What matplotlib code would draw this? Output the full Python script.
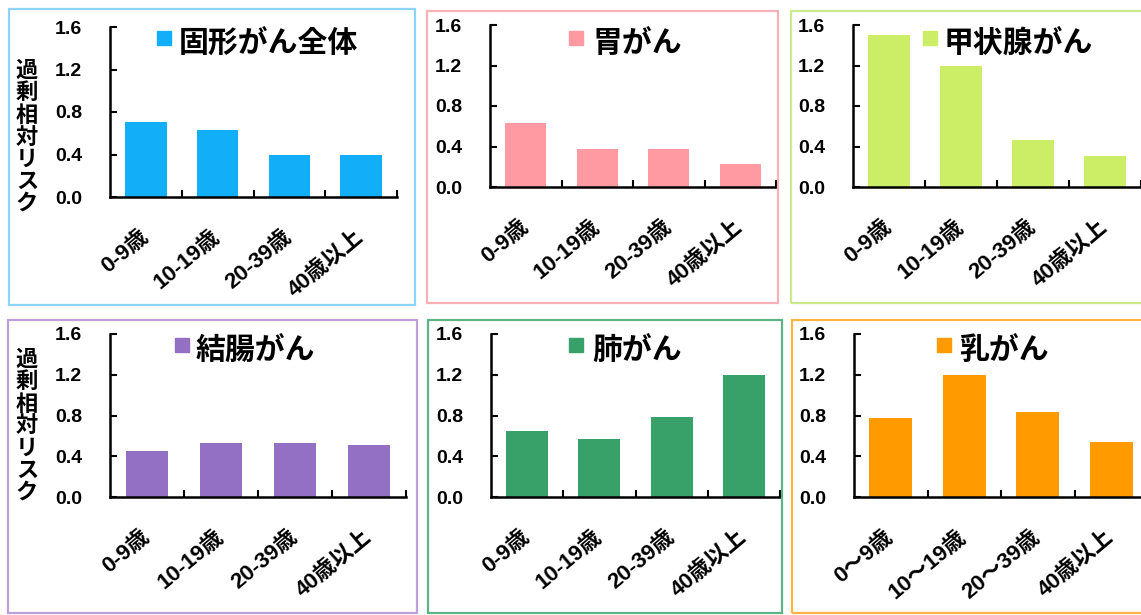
import matplotlib
matplotlib.use("Agg")
import matplotlib.pyplot as plt
from matplotlib.patches import Rectangle

W, H = 1141, 615
plt.rcParams['font.family'] = ['Liberation Sans', 'Noto Sans CJK JP', 'DejaVu Sans']
plt.rcParams['font.weight'] = 'bold'

categories = ['0-9歳', '10-19歳', '20-39歳', '40歳以上']
categories_breast = ['0～9歳', '10～19歳', '20～39歳', '40歳以上']
titles = ['固形がん全体', '胃がん', '甲状腺がん', '結腸がん', '肺がん', '乳がん']
solid = [0.71, 0.63, 0.40, 0.40]
stomach = [0.63, 0.38, 0.38, 0.23]
thyroid = [1.50, 1.20, 0.46, 0.31]
colon = [0.45, 0.53, 0.53, 0.51]
lung = [0.65, 0.57, 0.79, 1.20]
breast = [0.78, 1.20, 0.83, 0.54]
yticks = [0.0, 0.4, 0.8, 1.2, 1.6]
ylabel = '過剰相対リスク'

series = [solid, stomach, thyroid, colon, lung, breast]
cats = [categories, categories, categories, categories, categories, categories_breast]
bar_colors = ['#12AEF7', '#FF9AA2', '#CCEE66', '#9370C4', '#38A169', '#FF9A00']
border_colors = ['#8ED4F7', '#F7B0B5', '#CDE98E', '#BBA0DA', '#5CB488', '#FFB444']

# pixel layout (left, right, top, bottom)
axes_px = [(110, 397, 27, 197), (490, 776, 25, 187), (853, 1141, 25, 187),
           (110, 406, 334, 497), (491, 780, 334, 497), (854, 1148, 334, 497)]
border_px = [(9, 415, 9, 305), (427, 778, 11, 303), (791, 1146, 11, 303),
             (8, 417, 320, 613), (428, 782, 320, 613), (792, 1146, 320, 613)]
legend_px = [(157, 179), (569, 592), (923, 944), (175, 196), (569, 592), (937, 959)]
legend_y = [38, 38, 38, 345, 345, 345]

fig = plt.figure(figsize=(W / 100, H / 100), dpi=100)

for (l, r, t, b), col in zip(border_px, border_colors):
    fig.patches.append(Rectangle((l / W, 1 - b / H), (r - l) / W, (b - t) / H,
                                 transform=fig.transFigure, fill=False,
                                 edgecolor=col, linewidth=1.6))

for i in range(6):
    l, r, t, b = axes_px[i]
    ax = fig.add_axes([l / W, 1 - b / H, (r - l) / W, (b - t) / H])
    ax.patch.set_alpha(0)
    x = list(range(len(cats[i])))
    ax.bar(x, series[i], width=0.58, color=bar_colors[i], zorder=2)
    ax.set_xlim(-0.5, 3.5)
    ax.set_ylim(0, 1.6)
    for s in ['top', 'right']:
        ax.spines[s].set_visible(False)
    for s in ['left', 'bottom']:
        ax.spines[s].set_linewidth(1.8)
        ax.spines[s].set_zorder(3)
    ax.set_yticks(yticks)
    ax.set_yticklabels([f'{v:.1f}' for v in yticks], fontsize=14, fontweight='bold')
    ax.tick_params(axis='y', direction='in', length=5, width=1.5, pad=20)
    ax.set_xticks(x)
    ax.set_xticklabels(cats[i], rotation=40, ha='right', va='center',
                       rotation_mode='anchor', fontsize=16, fontweight='bold')
    ax.tick_params(axis='x', which='major', length=0, pad=27)
    ax.set_xticks([0.5, 1.5, 2.5, 3.5], minor=True)
    ax.tick_params(axis='x', which='minor', direction='in', length=5, width=1.5)

    # legend-like title
    sx, tx = legend_px[i]
    sy = legend_y[i]
    fig.patches.append(Rectangle((sx / W, 1 - (sy + 7) / H), 14 / W, 14 / H,
                                 transform=fig.transFigure, color=bar_colors[i]))
    fig.text(tx / W, 1 - (sy + 6) / H, titles[i], fontsize=21.5, fontweight='bold',
             ha='left', va='center')

for yc in [138, 427]:
    fig.text(27 / W, 1 - yc / H, '\n'.join(ylabel), fontsize=16, fontweight='bold',
             ha='center', va='center', linespacing=1.07)

fig.savefig('out.png', dpi=100)
